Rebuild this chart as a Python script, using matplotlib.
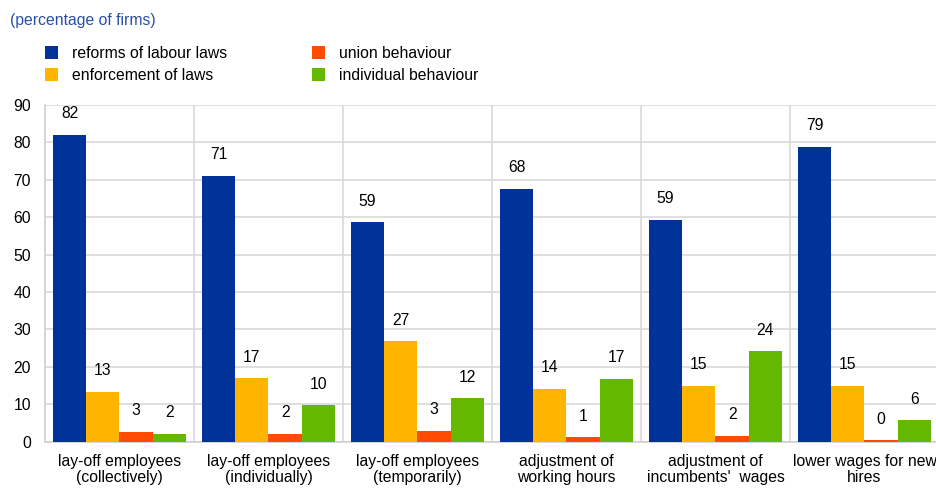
"""Grouped bar chart: perceived sources of labour-market flexibility, by type of adjustment."""

import matplotlib
matplotlib.use('Agg')
import matplotlib.pyplot as plt
import numpy as np

plt.rcParams['font.family'] = ['Liberation Sans', 'DejaVu Sans']

CATEGORIES = [
	'lay-off employees\n(collectively)',
	'lay-off employees\n(individually)',
	'lay-off employees\n(temporarily)',
	'adjustment of\nworking hours',
	'adjustment of\nincumbents\'  wages',
	'lower wages for new\nhires',
]
SERIES = ['reforms of labour laws', 'enforcement of laws',
	'union behaviour', 'individual behaviour']
REFORMS = [82.0, 71.1, 58.6, 67.6, 59.3, 78.9]
ENFORCEMENT = [13.4, 17.0, 26.9, 14.2, 15.0, 15.0]
UNION = [2.6, 2.1, 2.9, 1.2, 1.6, 0.4]
INDIVIDUAL = [2.1, 9.7, 11.6, 16.8, 24.2, 5.8]
COLORS = ['#003299', '#FFB400', '#FF4B00', '#65B800']

FS = 11.3
W, H = 937, 488
fig = plt.figure(figsize=(W / 100, H / 100), dpi=100)
# axes box in pixel terms: left 45, zero line at y=441.7, top (90) at y=105
ax = fig.add_axes([45 / W, (H - 441.7) / H, 894 / W, 336.7 / H])

bar_w = 0.223
x = np.arange(len(CATEGORIES))
values = [REFORMS, ENFORCEMENT, UNION, INDIVIDUAL]
handles = []
for i, (vals, col, name) in enumerate(zip(values, COLORS, SERIES)):
	pos = x + 0.5 + (i - 1.5) * bar_w
	bars = ax.bar(pos, vals, width=bar_w, color=col, label=name, zorder=3)
	handles.append(bars)
	for p, v in zip(pos, vals):
		ax.annotate(f'{v:.0f}', (p, v), xytext=(0, 21), textcoords='offset pixels',
			ha='center', va='center', fontsize=FS, color='#000000')

ax.set_xlim(0, len(CATEGORIES))
ax.set_ylim(0, 90)
ax.set_yticks(np.arange(0, 91, 10))
ax.set_xticks(x + 0.5)
ax.set_xticklabels(CATEGORIES, fontsize=FS, linespacing=1.05)
ax.tick_params(axis='both', length=0, labelsize=FS)
ax.tick_params(axis='y', pad=10)
ax.tick_params(axis='x', pad=9)
ax.grid(axis='y', color='#d9d9d9', lw=1.2, zorder=0)
for b in range(1, len(CATEGORIES)):
	ax.axvline(b, color='#d9d9d9', lw=1.2, zorder=0)
for side in ('top', 'right'):
	ax.spines[side].set_visible(False)
for side in ('left', 'bottom'):
	ax.spines[side].set_color('#d0d0d0')
	ax.spines[side].set_linewidth(1.2)

fig.text(10 / W, 1 - 20 / H, '(percentage of firms)', color='#2a4fa8',
	fontsize=FS, ha='left', va='center')

fig.legend(handles, SERIES,
	ncol=2, loc='upper left', bbox_to_anchor=(45 / W, 1 - 46 / H),
	frameon=False, fontsize=FS, handlelength=0.83, handleheight=0.83,
	handletextpad=0.87, columnspacing=5.45, labelspacing=0.45,
	borderpad=0, borderaxespad=0)

fig.savefig('out.png', dpi=100)
